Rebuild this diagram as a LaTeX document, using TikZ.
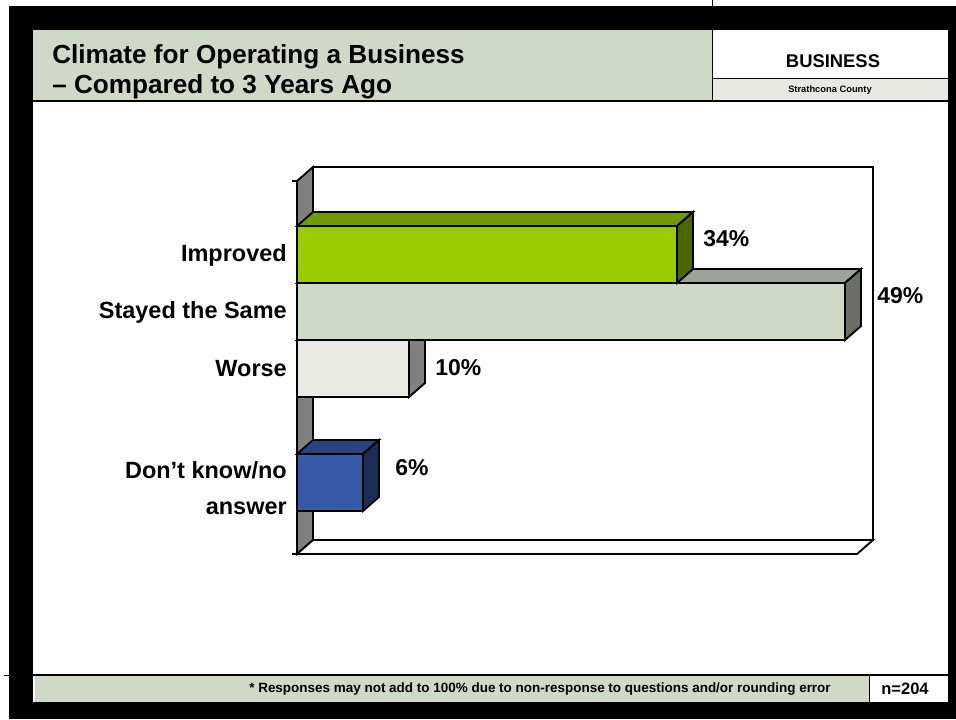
\documentclass[tikz,border=0pt]{standalone}
\usepackage{fontspec}
\setmainfont{Liberation Sans}
\definecolor{hdrgreen}{RGB}{208,216,200}
\definecolor{stratgray}{RGB}{232,232,227}
\definecolor{wallgray}{RGB}{128,128,128}
\definecolor{impfront}{RGB}{153,204,0}
\definecolor{imptop}{RGB}{115,153,0}
\definecolor{impside}{RGB}{77,102,0}
\definecolor{samefront}{RGB}{208,216,200}
\definecolor{sametop}{RGB}{158,161,151}
\definecolor{sameside}{RGB}{107,110,102}
\definecolor{worsefront}{RGB}{234,234,229}
\definecolor{worsetop}{RGB}{160,160,160}
\definecolor{worseside}{RGB}{128,128,128}
\definecolor{dkfront}{RGB}{55,90,168}
\definecolor{dktop}{RGB}{42,68,128}
\definecolor{dkside}{RGB}{30,45,85}
\newcommand{\chartbar}[5]{%
  \filldraw[edge, fill=#4] (297,#2) -- (313,#2-14) -- (#1+16,#2-14) -- (#1,#2) -- cycle;
  \filldraw[edge, fill=#5] (#1,#2) -- (#1+16,#2-14) -- (#1+16,#2+43) -- (#1,#2+57) -- cycle;
  \filldraw[edge, fill=#3] (297,#2) rectangle (#1,#2+57);
}
\begin{document}
\begin{tikzpicture}[x=0.75pt,y=-0.75pt,
  edge/.style={draw=black, line width=1.4pt, line join=miter},
  thin/.style={draw=black, line width=0.75pt},
  lbl/.style={inner sep=0pt, font=\fontsize{17.6}{27}\selectfont\bfseries},
  pct/.style={inner sep=0pt, anchor=west, font=\fontsize{17.2}{20}\selectfont\bfseries},
  ttl/.style={inner sep=0pt, anchor=west, font=\fontsize{19.6}{23}\selectfont\bfseries}]
\useasboundingbox (0,0) rectangle (956,719);
\fill[white] (0,0) rectangle (956,719);
\fill[black] (9,6) rectangle (956,719);
\fill[white] (33,30) rectangle (948,702);
% header
\fill[hdrgreen] (33,30) rectangle (712,101);
\fill[stratgray] (712,78) rectangle (948,101);
\draw[thin] (712,30) -- (712,101);
\draw[thin] (712,78) -- (948,78);
\draw[line width=1pt] (33,101) -- (948,101);
\draw[thin] (712,0) -- (712,6);
\node[ttl] (t1) at (52,57) {Climate for Operating a Business};
\node[ttl] (t2) at (52,87) {\textendash{} Compared to 3 Years Ago};
\node[inner sep=0pt, font=\fontsize{13.8}{16}\selectfont\bfseries] (bus) at (833,61) {BUSINESS};
\node[inner sep=0pt, font=\fontsize{7}{8}\selectfont\bfseries] (county) at (830,90) {Strathcona County};
% footer
\fill[hdrgreen] (35,676) rectangle (869,702);
\draw[line width=1.5pt] (33,675) -- (948,675);
\draw[thin] (869,675) -- (869,702);
\draw[thin] (4,675) -- (9,675);
\node[inner sep=0pt, font=\fontsize{10.1}{12}\selectfont\bfseries] (note) at (540,689) {* Responses may not add to 100\% due to non-response to questions and/or rounding error};
\node[inner sep=0pt, font=\fontsize{12.4}{14}\selectfont\bfseries] (n) at (905,689) {n=204};
% chart frame
\filldraw[edge, fill=white] (313,167) rectangle (873,540);
\filldraw[edge, fill=wallgray] (297,181) -- (313,167) -- (313,540) -- (297,554) -- cycle;
\filldraw[edge, fill=white] (297,554) -- (313,540) -- (873,540) -- (857,554) -- cycle;
\draw[edge] (292,181) -- (297,181);
\draw[edge] (292,554) -- (297,554);
% bars
\chartbar{363}{454}{dkfront}{dktop}{dkside}
\chartbar{409}{340}{worsefront}{worsetop}{worseside}
\chartbar{845}{283}{samefront}{sametop}{sameside}
\chartbar{677}{226}{impfront}{imptop}{impside}
% labels
\node[lbl, anchor=east] (limp) at (287,255) {Improved};
\node[lbl, anchor=east] (lsame) at (287,312) {Stayed the Same};
\node[lbl, anchor=east] (lworse) at (287,369) {Worse};
\node[lbl, anchor=east, align=right] (ldk) at (287,488) {Don’t know/no\\answer};
\node[pct] (p1) at (703,239) {34\%};
\node[pct] (p2) at (877,296) {49\%};
\node[pct] (p3) at (435,368) {10\%};
\node[pct] (p4) at (395,468) {6\%};
\end{tikzpicture}
\end{document}
